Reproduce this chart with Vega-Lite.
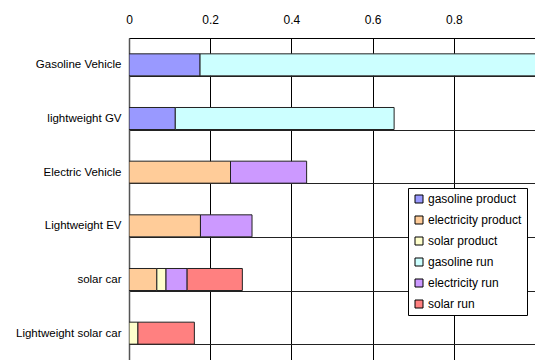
{
  "$schema": "https://vega.github.io/schema/vega-lite/v6.json",
  "autosize": "none",
  "width": 406,
  "height": 322,
  "padding": {"left": 129, "top": 38, "right": 0, "bottom": 0},
  "background": "white",
  "config": {"view": {"stroke": null}, "font": "Liberation Sans"},
  "data": {
    "values": [
      {"vehicle": "Gasoline Vehicle", "type": "gasoline product", "ord": 1, "value": 0.175},
      {"vehicle": "Gasoline Vehicle", "type": "gasoline run", "ord": 4, "value": 0.9},
      {"vehicle": "lightweight GV", "type": "gasoline product", "ord": 1, "value": 0.114},
      {"vehicle": "lightweight GV", "type": "gasoline run", "ord": 4, "value": 0.539},
      {"vehicle": "Electric Vehicle", "type": "electricity product", "ord": 2, "value": 0.25},
      {"vehicle": "Electric Vehicle", "type": "electricity run", "ord": 5, "value": 0.1875},
      {"vehicle": "Lightweight EV", "type": "electricity product", "ord": 2, "value": 0.176},
      {"vehicle": "Lightweight EV", "type": "electricity run", "ord": 5, "value": 0.127},
      {"vehicle": "solar car", "type": "electricity product", "ord": 2, "value": 0.0686},
      {"vehicle": "solar car", "type": "solar product", "ord": 3, "value": 0.0226},
      {"vehicle": "solar car", "type": "electricity run", "ord": 5, "value": 0.052},
      {"vehicle": "solar car", "type": "solar run", "ord": 6, "value": 0.136},
      {"vehicle": "Lightweight solar car", "type": "solar product", "ord": 3, "value": 0.022},
      {"vehicle": "Lightweight solar car", "type": "solar run", "ord": 6, "value": 0.139}
    ]
  },
  "mark": {"type": "bar", "stroke": "#222222", "strokeWidth": 1, "clip": true},
  "encoding": {
    "y": {
      "field": "vehicle",
      "type": "nominal",
      "sort": ["Gasoline Vehicle", "lightweight GV", "Electric Vehicle", "Lightweight EV", "solar car", "Lightweight solar car"],
      "scale": {"paddingInner": 0.59, "paddingOuter": 0.295},
      "axis": {
        "title": null,
        "ticks": false,
        "tickBand": "extent",
        "grid": true,
        "gridColor": "#222222",
        "gridOpacity": 1,
        "gridWidth": 1,
        "domainColor": "#555555",
        "domainWidth": 1.5,
        "labelFontSize": 11.5,
        "labelColor": "#000000",
        "labelPadding": 8
      }
    },
    "x": {
      "field": "value",
      "type": "quantitative",
      "stack": "zero",
      "scale": {"domain": [0, 1], "nice": false},
      "axis": {
        "orient": "top",
        "title": null,
        "values": [0, 0.2, 0.4, 0.6, 0.8],
        "format": "~g",
        "ticks": false,
        "grid": true,
        "gridColor": "#000000",
        "gridOpacity": 1,
        "gridWidth": 1,
        "domainColor": "#000000",
        "domainWidth": 1,
        "labelFontSize": 12,
        "labelColor": "#000000",
        "labelPadding": 12,
        "labelFlush": false
      }
    },
    "color": {
      "field": "type",
      "type": "nominal",
      "scale": {
        "domain": ["gasoline product", "electricity product", "solar product", "gasoline run", "electricity run", "solar run"],
        "range": ["#9999FF", "#FFCC99", "#FFFFCC", "#CCFFFF", "#CC99FF", "#FF8080"]
      },
      "legend": {
        "title": null,
        "orient": "none",
        "legendX": 279,
        "legendY": 150,
        "fillColor": "white",
        "strokeColor": "#000000",
        "padding": 5,
        "symbolType": "square",
        "symbolSize": 64,
        "symbolStrokeColor": "#000000",
        "symbolStrokeWidth": 1,
        "symbolOpacity": 1,
        "labelFontSize": 12,
        "labelColor": "#000000",
        "labelOffset": 3,
        "rowPadding": 9
      }
    },
    "order": {"field": "ord", "type": "quantitative"}
  }
}
